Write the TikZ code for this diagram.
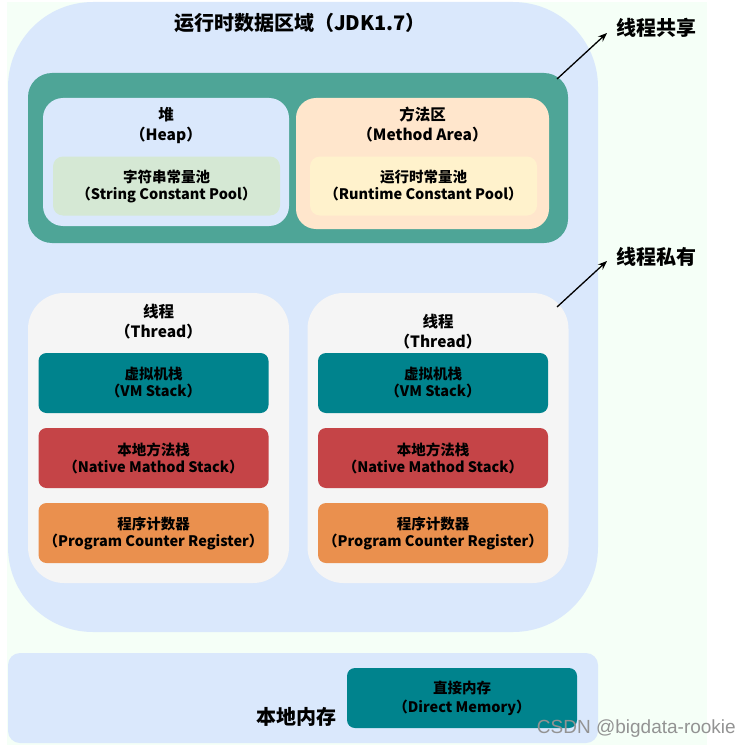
\documentclass[tikz,border=0pt]{standalone}
\usepackage{fontspec}
\usepackage{tikz}
\usetikzlibrary{arrows.meta}
\newfontfamily\cjk{Noto Sans CJK SC}
\newfontfamily\wmfont{Liberation Sans}

\definecolor{mintbg}{HTML}{F5FFF7}
\definecolor{areablue}{HTML}{DAE8FC}
\definecolor{sharedgreen}{HTML}{4EA597}
\definecolor{poolgreen}{HTML}{D5E8D4}
\definecolor{methodorange}{HTML}{FFE6CC}
\definecolor{poolyellow}{HTML}{FFF2CC}
\definecolor{threadgray}{HTML}{F5F5F5}
\definecolor{stackteal}{HTML}{00838D}
\definecolor{nativered}{HTML}{C54447}
\definecolor{pcorange}{HTML}{EA904E}

\tikzset{
  box/.style={rectangle, inner sep=0pt, rounded corners=#1},
  title/.style={font=\cjk\bfseries\fontsize{20}{23}\selectfont, inner sep=0pt},
  head/.style={font=\cjk\bfseries\fontsize{15.5}{20}\selectfont, align=center, inner sep=0pt},
  txt/.style={font=\cjk\bfseries\fontsize{14.5}{17}\selectfont, align=center, inner sep=0pt},
  pointer/.style={-{Stealth[length=9pt,width=7pt]}, line width=1.3pt},
}

\begin{document}
\begin{tikzpicture}[x=1pt, y=-1pt]
  \useasboundingbox (0,0) rectangle (747,749);
  \fill[mintbg] (7,2) rectangle (707,745);

  % runtime data area
  \fill[areablue, rounded corners=85pt] (8,2) rectangle (598,632);
  \node[title] (rtitle) at (300,23) {运行时数据区域（JDK1.7）};

  % shared part
  \node[box=24pt, fill=sharedgreen, minimum width=540pt, minimum height=170pt] (shared) at (298,158) {};
  \node[box=20pt, fill=areablue, minimum width=246pt, minimum height=128pt] (heap) at (166,162) {};
  \node[head] (heaplbl) at (166,125) {堆\\（Heap）};
  \node[box=10pt, fill=poolgreen, minimum width=227pt, minimum height=59pt] (spool) at (166.5,186) {};
  \node[txt] at (spool) {字符串常量池\\（String Constant Pool）};
  \node[box=20pt, fill=methodorange, minimum width=253pt, minimum height=131pt] (method) at (422.5,163.5) {};
  \node[head] (methodlbl) at (422.5,125) {方法区\\（Method Area）};
  \node[box=10pt, fill=poolyellow, minimum width=227pt, minimum height=59pt] (rpool) at (423.5,186) {};
  \node[txt] at (rpool) {运行时常量池\\（Runtime Constant Pool）};

  % private part
  \foreach \cx/\ty/\nm in {158.5/321.5/lt, 438/332/rt} {
    \node[box=36pt, fill=threadgray, minimum width=261pt, minimum height=290pt] (\nm) at (\cx,438) {};
    \node[head] at (\cx,\ty) {线程\\（Thread）};
    \node[box=8pt, fill=stackteal, minimum width=230pt, minimum height=60pt] (\nm vm) at (\cx-5,383) {};
    \node[txt] at (\nm vm) {虚拟机栈\\（VM Stack）};
    \node[box=8pt, fill=nativered, minimum width=230pt, minimum height=60pt] (\nm nat) at (\cx-5,458) {};
    \node[txt] at (\nm nat) {本地方法栈\\（Native Mathod Stack）};
    \node[box=8pt, fill=pcorange, minimum width=230pt, minimum height=60pt] (\nm pc) at (\cx-5,533) {};
    \node[txt] at (\nm pc) {程序计数器\\（Program Counter Register）};
  }

  % pointers
  \node[title, anchor=west] (sharedlbl) at (616,28) {线程共享};
  \node[title, anchor=west] (privatelbl) at (616,257) {线程私有};
  \coordinate (sharedtail) at (557,79);
  \coordinate (sharedhead) at (607,33);
  \coordinate (privatetail) at (557,307);
  \coordinate (privatehead) at (607,261);
  \draw[pointer] (sharedtail) -- (sharedhead);
  \draw[pointer] (privatetail) -- (privatehead);

  % native memory
  \node[box=12pt, fill=areablue, minimum width=590pt, minimum height=90pt] (native) at (303,698) {};
  \node[title] (nativelbl) at (296,717) {本地内存};
  \node[box=8pt, fill=stackteal, minimum width=230pt, minimum height=60pt] (direct) at (462,698) {};
  \node[txt, font=\cjk\bfseries\fontsize{14.5}{19}\selectfont] at (direct) {直接内存\\（Direct Memory）};

  \node[font=\wmfont\fontsize{19}{22}\selectfont, text=gray!85, anchor=east, inner sep=0pt] (wm) at (736,729) {CSDN @bigdata-rookie};
\end{tikzpicture}
\end{document}
